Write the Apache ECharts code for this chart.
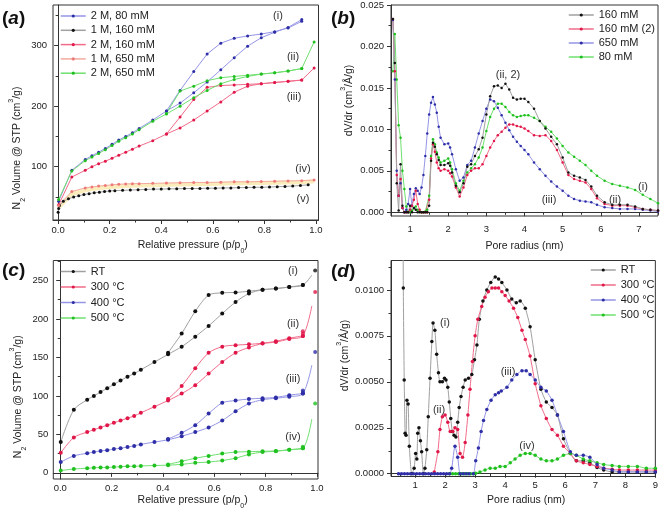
<!DOCTYPE html>
<html><head><meta charset="utf-8">
<script src="https://cdn.jsdelivr.net/npm/echarts@6/dist/echarts.min.js"></script>
<style>html,body{margin:0;padding:0;background:#fff}#c{width:661px;height:511px}</style>
</head><body><div id="c"></div>
<script>
// ---------- panel (a) ----------
const pA = [0.002, 0.053, 0.105, 0.131, 0.157, 0.183, 0.209, 0.235, 0.262, 0.288, 0.314, 0.367, 0.42, 0.473, 0.526, 0.578, 0.631, 0.683, 0.735, 0.788, 0.84, 0.892, 0.945];
const pA24 = [0.002, 0.053, 0.105, 0.131, 0.157, 0.183, 0.209, 0.235, 0.262, 0.288, 0.314, 0.367, 0.42, 0.473, 0.526, 0.578, 0.631, 0.683, 0.735, 0.788, 0.84, 0.892, 0.945, 0.993];
const pDes = [0.945, 0.892, 0.84, 0.788, 0.735, 0.683, 0.631, 0.578, 0.526, 0.473, 0.42];
const a2M80Ads = [43, 94, 112, 118, 124, 130, 137, 144, 150, 156, 163, 177, 192, 205, 222, 240, 260, 280, 299, 313, 322, 330, 343];
const a2M80Des = [340, 329, 323, 319, 316, 312, 304, 286, 257, 226, 192];
const a2M160Ads = [37, 83, 94, 100, 105, 109, 114, 119, 124, 129, 134, 143, 154, 164, 177, 192, 207, 223, 233, 237, 239, 241, 243, 263];
const a2M160Des = [243, 241, 239, 237, 236, 235, 234, 231, 211, 182, 154];
const a2M650Ads = [46, 93, 110, 116, 122, 128, 135, 142, 148, 154, 161, 175, 187, 200, 214, 226, 237, 244, 249, 253, 255, 258, 262, 306];
const a2M650Des = [262, 258, 255, 253, 251, 249, 247, 242, 233, 225, 188];
const p1M160 = [0.0, 0.002, 0.005, 0.02, 0.04, 0.06, 0.08, 0.1, 0.12, 0.14, 0.16, 0.18, 0.2, 0.22, 0.25, 0.28, 0.31, 0.34, 0.37, 0.4, 0.43, 0.46, 0.49, 0.52, 0.55, 0.58, 0.61, 0.64, 0.67, 0.7, 0.73, 0.76, 0.79, 0.82, 0.85, 0.88, 0.91, 0.94, 0.97];
const a1M160 = [25, 31, 36, 43, 47, 50, 52, 54, 55.5, 57, 58, 59, 60, 60.5, 61, 61.5, 62, 62.5, 63, 63, 63.5, 63.5, 64, 64, 64, 64.5, 64.5, 65, 65, 65.5, 65.5, 66, 66, 66.5, 67, 67.5, 68, 69, 70];
const a1M650 = [36, 59, 65, 66.5, 68, 69, 70, 71, 71.5, 72, 72, 72.5, 73, 73.5, 74, 74, 74.5, 75, 75, 75.5, 76, 76.5, 77, 78];
const a1M650Band = [33, 55, 61, 63, 64.5, 65.5, 66.5, 67.5, 68, 68.5, 69, 69.5, 70, 70.5, 71, 71.5, 72, 72.5, 72.5, 73, 73.5, 74, 74.5, 76];

// ---------- panel (b) ----------
const pB = [0.55, 0.6, 0.65, 0.7, 0.75, 0.8, 0.85, 0.9, 0.95,
  1.0, 1.05, 1.1, 1.15, 1.2, 1.25, 1.3, 1.35, 1.4, 1.45, 1.5, 1.55, 1.6, 1.65, 1.7, 1.75, 1.8,
  1.9, 2.0, 2.05, 2.1,
  2.2, 2.3, 2.4, 2.5, 2.6, 2.7, 2.8, 2.9, 3.0, 3.1, 3.2, 3.3, 3.4, 3.5, 3.6, 3.7, 3.8, 3.9, 4.0, 4.1,
  4.25, 4.4, 4.55, 4.7, 4.85, 5.0, 5.15, 5.3, 5.45, 5.6, 5.75, 5.9,
  6.1, 6.3, 6.5, 6.7, 6.9, 7.1, 7.3, 7.5];
const b160 = [0.0233, 0.018, 0.0035, 0.0002, 0.0058, 0.0008, 0, 0, 0,
  0.0008, 0, 0.0005, 0.0003, 0, 0, 0, 0, 0, 0, 0.0008, 0.0062, 0.0084, 0.0079, 0.007, 0.0063, 0.0057,
  0.0057, 0.0059, 0.0056, 0.0048,
  0.0032, 0.0024, 0.0035, 0.0055, 0.0058, 0.0068, 0.0076, 0.009, 0.0118, 0.014, 0.0152, 0.0153, 0.015, 0.0155, 0.0148, 0.0138, 0.0136, 0.0137, 0.0137, 0.0133,
  0.0125, 0.011, 0.0101, 0.0091, 0.0082, 0.0066, 0.0048, 0.0044, 0.0042, 0.0039, 0.0031, 0.002,
  0.0012, 0.0009, 0.0009, 0.0009, 0.0007, 0.0004, 0.0003, 0.0002];
const b160b = [0.0233, 0.017, 0.0045, 0.002, 0.004, 0.0005, 0, 0, 0,
  0.0003, 0.0008, 0.0015, 0.0026, 0.001, 0.0003, 0, 0, 0, 0, 0.0015, 0.0065, 0.0082, 0.0073, 0.006, 0.0053, 0.005,
  0.0052, 0.005, 0.0047, 0.0043,
  0.003, 0.0019, 0.003, 0.0045, 0.005, 0.0053, 0.0053, 0.0058, 0.0068, 0.0078, 0.0086, 0.0093, 0.0097, 0.0102, 0.0106, 0.0106, 0.0104, 0.0103, 0.0101, 0.0098,
  0.0093, 0.0092, 0.0093, 0.0086, 0.0075, 0.006, 0.0045, 0.004, 0.0038, 0.0036, 0.0028, 0.0017,
  0.001, 0.0008, 0.0008, 0.0008, 0.0006, 0.0004, 0.0003, 0.0002];
const b650 = [0.0232, 0.016, 0.005, 0.002, 0.0035, 0.0005, 0, 0.0003, 0.001,
  0.0028, 0.0008, 0.0022, 0.0029, 0.0026, 0.0022, 0.003, 0.0045, 0.0068, 0.0095, 0.0118, 0.0132, 0.0139, 0.013, 0.012, 0.0103, 0.009,
  0.0082, 0.0083, 0.0078, 0.007,
  0.0052, 0.0038, 0.0042, 0.0057, 0.0062, 0.0078, 0.0095, 0.011, 0.0125, 0.0136, 0.0134, 0.0126, 0.0117, 0.0108, 0.0099, 0.0091, 0.0085, 0.008, 0.0075, 0.007,
  0.006, 0.0052, 0.0044, 0.0037, 0.0031, 0.0026, 0.002, 0.0016, 0.0014, 0.0013, 0.0012, 0.0009,
  0.0006, 0.0005, 0.0004, 0.0004, 0.0004, 0.0003, 0.0002, 0.0001];
const b80 = [0.017, 0.0215, 0.016, 0.0105, 0.009, 0.005, 0.0028, 0.0007, 0,
  0, 0.0002, 0.0005, 0.0007, 0.0003, 0.0001, 0, 0, 0.0001, 0.0003, 0.002, 0.0068, 0.0088, 0.0082, 0.0072, 0.0066, 0.006,
  0.0062, 0.0065, 0.006, 0.0052,
  0.0035, 0.0026, 0.0038, 0.0048, 0.0053, 0.0058, 0.0066, 0.0078, 0.0098, 0.0115, 0.0125, 0.0131, 0.0131, 0.0127, 0.0121, 0.0117, 0.0115, 0.0116, 0.0117, 0.0117,
  0.0114, 0.011, 0.0103, 0.0097, 0.0089, 0.008, 0.0072, 0.0067, 0.0062, 0.0057, 0.005, 0.0044,
  0.0038, 0.0034, 0.0032, 0.003, 0.0027, 0.0021, 0.0016, 0.0011];

// ---------- panel (c) ----------
const cRTAds = [40, 82, 95, 100, 105, 110, 115, 120, 125, 129, 134, 144, 154, 164, 177, 191, 207, 222, 233, 238, 239.5, 241.5, 244];
const cRTDes = [244, 241.5, 239.5, 238, 236, 234.5, 234, 231, 210, 181, 156];
const c300Ads = [26, 46, 53, 56, 59, 62, 65, 68, 71, 74, 78, 86, 94, 103, 114, 129, 144, 156, 163, 168, 170, 174, 178];
const c300Des = [178, 175, 171, 168.5, 167, 166, 164, 156, 136, 113, 96];
const c400Ads = [14, 22, 25.5, 27, 28.5, 29.5, 31, 32, 33.5, 35, 37, 40, 43, 47.5, 53, 59, 68, 80, 90, 95, 97, 99, 103];
const c400Des = [103, 101, 98, 97, 96, 94, 91, 77, 62, 52, 44];
const c500Ads = [3, 5, 6, 6.5, 7, 7, 7.5, 8, 8.5, 8.5, 9, 9.5, 10, 11, 13, 14, 16, 19, 24, 27, 28, 30, 32];
const c500Des = [32, 30, 28.5, 28, 27.5, 27, 25, 22, 19, 15, 11];
const cFitEnd = { RT: [0.98, 257], T300: [0.98, 217], T400: [0.98, 140], T500: [0.98, 70] };
const cExtraRT = [[0.993, 263]];
const cExtra300 = [[0.945, 184], [0.945, 181], [0.993, 235]];
const cExtra400 = [[0.945, 107], [0.945, 105], [0.993, 157]];
const cExtra500 = [[0.945, 34], [0.945, 33], [0.993, 90]];

// ---------- panel (d) ----------
const dRT = [[0.55,0.03],[0.61,0.0101],[0.64,0.0051],[0.67,0.0022],[0.7,0.0021],[0.73,0.004],[0.77,0.0038],[0.81,0.0015],[0.89,0],[0.97,0.0003],[1.02,0.0011],[1.06,0.0008],[1.09,0.0022],[1.13,0.0025],[1.18,0.0018],[1.22,0.0012],[1.28,0],[1.33,0.0003],[1.39,0.0013],[1.44,0.0031],[1.5,0.0052],[1.56,0.0072],[1.6,0.0082],[1.66,0.0078],[1.72,0.0065],[1.78,0.0055],[1.83,0.005],[1.91,0.005],[1.98,0.0052],[2.03,0.0051],[2.09,0.0047],[2.14,0.0039],[2.19,0.003],[2.24,0.0023],[2.3,0.0021],[2.36,0.002],[2.42,0.0028],[2.47,0.0036],[2.53,0.0042],[2.6,0.0047],[2.67,0.0051],[2.78,0.0052],[2.89,0.0054],[2.98,0.0062],[3.06,0.007],[3.14,0.0084],[3.26,0.0094],[3.39,0.01],[3.52,0.0104],[3.67,0.0107],[3.78,0.0106],[3.89,0.0104],[4.06,0.01],[4.22,0.0095],[4.37,0.0093],[4.5,0.0094],[4.67,0.009],[4.83,0.008],[5.0,0.0062],[5.19,0.0046],[5.37,0.0039],[5.56,0.0036],[5.74,0.0032],[5.94,0.0019],[6.17,0.0011],[6.37,0.0007],[6.6,0.0007],[6.82,0.0006],[7.06,0.00034],[7.28,0.0002],[7.56,0.0001],[7.8,0.0001],[8.1,0.0001],[8.4,0.0001],[8.7,0.0001],[9.0,0.0001]];
const d300 = [[1.64,0.0001],[1.76,0.0012],[1.83,0.0024],[1.91,0.0031],[2.0,0.0032],[2.09,0.0028],[2.17,0.0023],[2.26,0.0023],[2.33,0.0025],[2.42,0.0024],[2.5,0.0011],[2.58,0.0009],[2.67,0.0017],[2.76,0.0032],[2.83,0.0046],[2.91,0.0061],[3.0,0.0075],[3.09,0.0084],[3.22,0.0091],[3.33,0.0096],[3.44,0.0099],[3.56,0.0101],[3.67,0.0101],[3.78,0.0101],[3.89,0.0099],[4.0,0.0097],[4.13,0.0094],[4.28,0.009],[4.42,0.0085],[4.56,0.0078],[4.67,0.0073],[4.83,0.0064],[5.0,0.0049],[5.19,0.0037],[5.37,0.003],[5.56,0.0024],[5.74,0.0021],[5.94,0.0015],[6.17,0.0011],[6.37,0.0007],[6.6,0.0006],[6.82,0.0005],[7.06,0.0004],[7.28,0.0003],[7.56,0.00025],[7.8,0.0002],[8.1,0.0002],[8.4,0.0002],[8.7,0.0002],[9.0,0.0002]];
const d400 = [[0.45,0],[0.55,0],[0.65,0],[0.75,0],[0.85,0],[0.95,0],[1.05,0],[1.15,0],[1.25,0],[1.35,0],[1.45,0],[1.55,0],[1.65,0],[1.75,0],[1.85,0],[1.95,0],[2.05,0],[2.15,0],[2.22,0.0003],[2.33,0.0015],[2.42,0.0009],[2.5,0],[2.6,0],[2.7,0],[2.8,0],[2.94,0],[3.02,0.0007],[3.11,0.0014],[3.2,0.0023],[3.28,0.0029],[3.39,0.0035],[3.53,0.004],[3.67,0.0043],[3.78,0.0044],[3.87,0.0045],[4.06,0.0047],[4.22,0.0051],[4.39,0.0054],[4.56,0.0056],[4.7,0.0056],[4.83,0.0054],[5.0,0.0051],[5.19,0.0047],[5.37,0.0045],[5.56,0.004],[5.74,0.0032],[5.94,0.0023],[6.17,0.0012],[6.37,0.001],[6.6,0.001],[6.82,0.0009],[7.06,0.0005],[7.28,0.0003],[7.56,0.0002],[7.8,0.0001],[8.1,0.0001],[8.4,0.0001],[8.7,0.0001],[9.0,0.0001]];
const d500 = [[2.15,0],[2.25,0],[2.35,0],[2.45,0],[2.55,0],[2.65,0],[2.75,0],[2.85,0],[2.95,0],[3.02,0.00003],[3.16,0.0001],[3.33,0.0002],[3.5,0.0003],[3.67,0.0003],[3.83,0.0004],[4.0,0.0004],[4.17,0.0006],[4.33,0.0008],[4.5,0.001],[4.67,0.0011],[4.83,0.0011],[5.0,0.001],[5.19,0.0008],[5.37,0.0007],[5.56,0.0007],[5.74,0.0008],[5.94,0.001],[6.17,0.0011],[6.37,0.001],[6.6,0.0008],[6.82,0.0007],[7.06,0.0006],[7.28,0.0005],[7.56,0.00045],[7.8,0.0004],[8.1,0.0004],[8.4,0.0004],[8.7,0.0003],[9.0,0.0003]];

// ---------- tick labels ----------
const ticksP = [0, 0.2, 0.4, 0.6, 0.8, 1.0];
const minorP = [0.1, 0.3, 0.5, 0.7, 0.9];
const ticksAy = [100, 200, 300];
const minorAy = [50, 150, 250, 350];
const ticksBx = [1, 2, 3, 4, 5, 6, 7];
const minorBx = [0.5, 1.5, 2.5, 3.5, 4.5, 5.5, 6.5, 7.5];
const ticksBy = [0, 0.005, 0.01, 0.015, 0.02, 0.025];
const minorBy = [0.0025, 0.0075, 0.0125, 0.0175, 0.0225];
const ticksCy = [0, 50, 100, 150, 200, 250];
const minorCy = [25, 75, 125, 175, 225, 275];
const ticksDx = [1, 2, 3, 4, 5, 6, 7, 8, 9];
const minorDx = [0.5, 1.5, 2.5, 3.5, 4.5, 5.5, 6.5, 7.5, 8.5];
const ticksDy = [0, 0.0025, 0.005, 0.0075, 0.01];
const minorDy = [0.00125, 0.00375, 0.00625, 0.00875, 0.01125];

// ---------- build ----------
const FONT = 'Liberation Sans, Arial, Helvetica, sans-serif';
const AX = '#333';
const zip = (xs, ys) => xs.map((x, i) => [x, ys[i]]);
const subRich = {
  s: { fontSize: 7, verticalAlign: 'bottom', padding: [0, 0, -4, 0] },
  u: { fontSize: 7, verticalAlign: 'top', padding: [-4, 0, 0, 0] }
};

const grids = [
  { left: 53, top: 5, width: 265.5, height: 215 },
  { left: 391, top: 5, width: 267, height: 211 },
  { left: 53.3, top: 260.5, width: 264.7, height: 219 },
  { left: 391, top: 260.5, width: 265, height: 216 }
].map(g => Object.assign({ show: true, borderColor: AX, borderWidth: 1, containLabel: false }, g));

const xAxes = [], yAxes = [];
function addAxes(gi, c) {
  xAxes.push({
    type: 'value', gridIndex: gi, position: 'bottom', min: c.xmin, max: c.xmax,
    axisLine: { show: true, lineStyle: { color: AX, width: 1 } },
    axisTick: { show: true, inside: false, length: 4, customValues: c.xt, lineStyle: { color: AX } },
    axisLabel: { customValues: c.xt, formatter: c.xf, fontSize: 9.5, fontFamily: FONT, color: '#222', margin: c.xm },
    splitLine: { show: false },
    name: c.xname, nameLocation: 'middle', nameGap: c.xgap,
    nameTextStyle: { fontSize: 10.5, fontFamily: FONT, color: '#222', padding: c.xpad, rich: subRich }
  });
  xAxes.push({
    type: 'value', gridIndex: gi, position: 'bottom', min: c.xmin, max: c.xmax,
    axisLine: { show: false }, axisLabel: { show: false }, splitLine: { show: false },
    axisTick: { show: true, inside: false, length: 2.5, customValues: c.xmt, lineStyle: { color: AX } }
  });
  yAxes.push({
    type: 'value', gridIndex: gi, position: 'left', min: c.ymin, max: c.ymax,
    axisLine: { show: true, lineStyle: { color: AX, width: 1 } },
    axisTick: { show: true, inside: false, length: 4, customValues: c.yt, lineStyle: { color: AX } },
    axisLabel: { customValues: c.yt, formatter: c.yf, fontSize: 9.5, fontFamily: FONT, color: '#222', margin: c.ym },
    splitLine: { show: false },
    name: c.yname, nameLocation: 'middle', nameGap: c.ygap,
    nameTextStyle: { fontSize: 10.5, fontFamily: FONT, color: '#222', padding: c.ypad, rich: subRich }
  });
  yAxes.push({
    type: 'value', gridIndex: gi, position: 'left', min: c.ymin, max: c.ymax,
    axisLine: { show: false }, axisLabel: { show: false }, splitLine: { show: false },
    axisTick: { show: true, inside: false, length: 2.5, customValues: c.ymt, lineStyle: { color: AX } }
  });
}
const f1 = v => v.toFixed(1), f0 = v => String(Math.round(v)), f3 = v => v.toFixed(3), f4 = v => v.toFixed(4);
addAxes(0, { xmin: -0.02, xmax: 1.01, xt: ticksP, xmt: minorP, xf: f1, xm: 5, xname: 'Relative pressure (p/p{s|0})', xgap: 20, xpad: [0, 0, 0, 14],
  ymin: 12, ymax: 367, yt: ticksAy, ymt: minorAy, yf: f0, ym: 6, yname: 'N{s|2} Volume @ STP (cm{u|3}/g)', ygap: 30, ypad: [0, 71, 0, 0] });
addAxes(1, { xmin: 0.5, xmax: 7.5, xt: ticksBx, xmt: minorBx, xf: f0, xm: 8, xname: 'Pore radius (nm)', xgap: 25, xpad: [0, 0, 0, 0],
  ymin: -0.00045, ymax: 0.025, yt: ticksBy, ymt: minorBy, yf: f3, ym: 7, yname: 'dV/dr (cm{u|3}/Å/g)', ygap: 36, ypad: [0, 0, 0, 20] });
addAxes(2, { xmin: -0.027, xmax: 1.004, xt: ticksP, xmt: minorP, xf: f1, xm: 4, xname: 'Relative pressure (p/p{s|0})', xgap: 16, xpad: [0, 0, 0, 14],
  ymin: -8, ymax: 276, yt: ticksCy, ymt: minorCy, yf: f0, ym: 5, yname: 'N{s|2} Volume @ STP (cm{u|3}/g)', ygap: 30, ypad: [0, 54, 0, 0] });
addAxes(3, { xmin: 0.2, xmax: 9, xt: ticksDx, xmt: minorDx, xf: f0, xm: 4, xname: 'Pore radius (nm)', xgap: 18, xpad: [0, 0, 0, 6],
  ymin: -0.00015, ymax: 0.0116, yt: ticksDy, ymt: minorDy, yf: f4, ym: 7, yname: 'dV/dr (cm{u|3}/Å/g)', ygap: 37, ypad: [0, 0, 0, 26] });

const COL = {
  blue: ['#9595e6', '#2e2ea6'],
  black: ['#a0a0a0', '#111111'],
  red: ['#f26c8a', '#e0184a'],
  peach: ['#f3aaa0', '#ee7a78'],
  green: ['#6fe06f', '#20c020']
};
function L(name, gi, data, col, size, extra) {
  return Object.assign({
    type: 'line', name, xAxisIndex: gi * 2, yAxisIndex: gi * 2, data,
    symbol: 'circle', symbolSize: size, showSymbol: true, showAllSymbol: true,
    lineStyle: { color: col[0], width: 1 }, itemStyle: { color: col[1] },
    emphasis: { disabled: true }, animation: false, clip: true
  }, extra || {});
}
function fitted(ads, end) {
  const d = zip(pA, ads);
  d.push({ value: end, symbol: 'none' });
  return d;
}
function S(name, gi, data, col, size) {
  return { type: 'scatter', name, xAxisIndex: gi * 2, yAxisIndex: gi * 2, data, symbol: 'circle', symbolSize: size,
    itemStyle: { color: col[1] }, emphasis: { disabled: true }, animation: false, z: 3 };
}

const series = [
  // (a)
  L('band', 0, zip(pA24, a1M650Band), ['#fbecbc', '#fbecbc'], 0, { symbol: 'none', lineStyle: { color: '#fbecbc', width: 4 }, z: 1 }),
  L('2 M, 80 mM', 0, zip(pA, a2M80Ads), COL.blue, 3),
  L('a80d', 0, zip(pDes, a2M80Des), COL.blue, 3),
  L('1 M, 160 mM', 0, zip(p1M160, a1M160), COL.black, 3),
  L('2 M, 160 mM', 0, zip(pA24, a2M160Ads), COL.red, 3),
  L('a160d', 0, zip(pDes, a2M160Des), COL.red, 3),
  L('1 M, 650 mM', 0, zip(pA24, a1M650), COL.peach, 3),
  L('2 M, 650 mM', 0, zip(pA24, a2M650Ads), COL.green, 3),
  L('a650d', 0, zip(pDes, a2M650Des), COL.green, 3),
  // (b)
  L('80 mM', 1, zip(pB, b80), COL.green, 2.5),
  L('650 mM', 1, zip(pB, b650), COL.blue, 2.5),
  L('160 mM (2)', 1, zip(pB, b160b), COL.red, 2.5),
  L('160 mM', 1, zip(pB, b160), COL.black, 2.5),
  // (c)
  L('RT', 2, fitted(cRTAds, cFitEnd.RT), COL.black, 4, { smooth: 0.3 }),
  L('cRTd', 2, zip(pDes, cRTDes), COL.black, 4, { smooth: 0.3 }),
  S('cRTx', 2, cExtraRT, COL.black, 4),
  L('300 °C', 2, fitted(c300Ads, cFitEnd.T300), COL.red, 4, { smooth: 0.3 }),
  L('c300d', 2, zip(pDes, c300Des), COL.red, 4, { smooth: 0.3 }),
  S('c300x', 2, cExtra300, COL.red, 4),
  L('400 °C', 2, fitted(c400Ads, cFitEnd.T400), COL.blue, 4, { smooth: 0.3 }),
  L('c400d', 2, zip(pDes, c400Des), COL.blue, 4, { smooth: 0.3 }),
  S('c400x', 2, cExtra400, COL.blue, 4),
  L('500 °C', 2, fitted(c500Ads, cFitEnd.T500), COL.green, 4, { smooth: 0.3 }),
  L('c500d', 2, zip(pDes, c500Des), COL.green, 4, { smooth: 0.3 }),
  S('c500x', 2, cExtra500, COL.green, 4),
  // (d)
  L('dRT', 3, dRT, COL.black, 3.5, { smooth: 0.2 }),
  L('d300', 3, d300, COL.red, 3.5, { smooth: 0.2 }),
  L('d500', 3, d500, COL.green, 3.5, { smooth: 0.2 }),
  L('d400', 3, d400, COL.blue, 3.5, { smooth: 0.2 })
];

function item(name, col) {
  return { name, itemStyle: { color: col[1] }, lineStyle: { color: col[0], width: 1.5 } };
}
function legendStyle(extra) {
  return Object.assign({ orient: 'vertical', itemWidth: 25, itemHeight: 4, itemGap: 3,
    textStyle: { fontSize: 11, fontFamily: FONT, color: '#222', lineHeight: 12 }, selectedMode: false,
    padding: 0, backgroundColor: 'transparent' }, extra);
}
const legends = [
  legendStyle({ left: 60, top: 10, itemGap: 2.3, data: [item('2 M, 80 mM', COL.blue), item('1 M, 160 mM', COL.black), item('2 M, 160 mM', COL.red), item('1 M, 650 mM', COL.peach), item('2 M, 650 mM', COL.green)] }),
  legendStyle({ left: 568, top: 9, itemGap: 2, data: [item('160 mM', COL.black), item('160 mM (2)', COL.red), item('650 mM', COL.blue), item('80 mM', COL.green)] }),
  legendStyle({ left: 60, top: 265.5, itemGap: 3.5, data: [item('RT', COL.black), item('300 °C', COL.red), item('400 °C', COL.blue), item('500 °C', COL.green)] }),
  legendStyle({ left: 590, top: 264, itemGap: 3, data: [item('RT', COL.black), item('300 °C', COL.red), item('400 °C', COL.blue), item('500 °C', COL.green)] })
];

function T(text, x, y) {
  return { type: 'text', x, y, z: 100, style: { text, fill: '#333', font: '11px ' + FONT, align: 'center', verticalAlign: 'middle' } };
}
function P(letter, x, y) {
  return { type: 'text', x, y, z: 100, style: { text: '{p|(}{l|' + letter + '}{p|)}', verticalAlign: 'middle',
    rich: { p: { font: 'bold 19px ' + FONT, fill: '#111' }, l: { font: 'bold italic 19px ' + FONT, fill: '#111' } } } };
}
const graphic = [
  P('a', 2, 19), P('b', 331, 19), P('c', 2, 271), P('d', 331, 272),
  T('(i)', 278, 16), T('(ii)', 293, 57), T('(iii)', 294, 97), T('(iv)', 303, 169), T('(v)', 303, 199),
  T('(ii, 2)', 508, 75), T('(iii)', 549, 200), T('(ii)', 615, 200), T('(i)', 643, 187),
  T('(i)', 293, 271), T('(ii)', 293, 324), T('(iii)', 293, 379), T('(iv)', 293, 437),
  T('(i)', 445, 323), T('(ii)', 439, 410), T('(iii)', 508, 372), T('(iv)', 527, 446)
];

const chart = echarts.init(document.getElementById('c'), null, { renderer: 'canvas' });
chart.setOption({
  animation: false,
  backgroundColor: '#fff',
  textStyle: { fontFamily: FONT },
  grid: grids, xAxis: xAxes, yAxis: yAxes,
  legend: legends, series, graphic
});
</script></body></html>
